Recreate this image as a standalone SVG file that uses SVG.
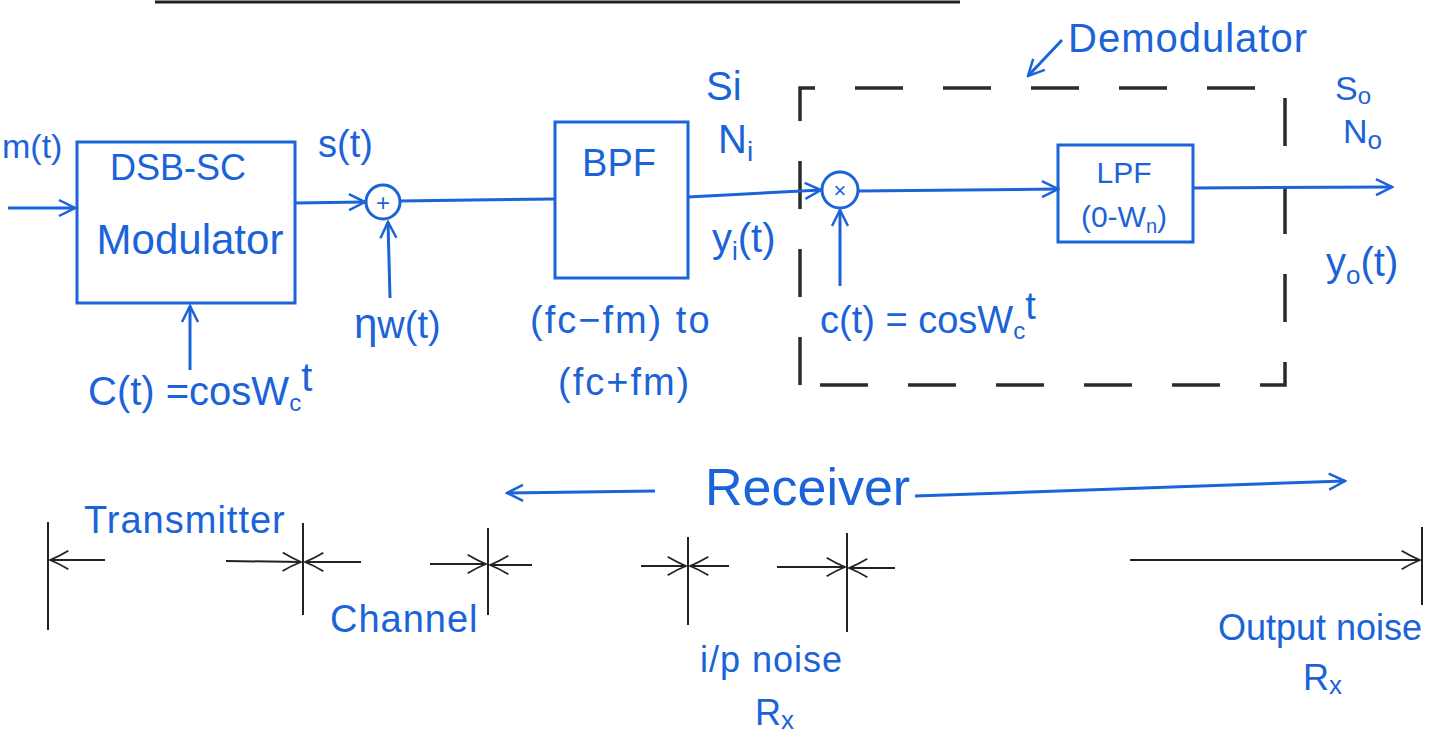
<svg xmlns="http://www.w3.org/2000/svg" width="1448" height="737" viewBox="0 0 1448 737">
<defs>
<marker id="ah" viewBox="0 0 20 20" refX="18" refY="10" markerWidth="20" markerHeight="20" markerUnits="userSpaceOnUse" orient="auto">
<path d="M2,2 L18,10 L2,18" fill="none" stroke="#1b63d8" stroke-width="2.5"/>
</marker>
<marker id="ahk" viewBox="0 0 24 24" refX="22" refY="12" markerWidth="22" markerHeight="22" markerUnits="userSpaceOnUse" orient="auto">
<path d="M2,2 Q12,8 22,12 Q12,16 2,22" fill="none" stroke="#222" stroke-width="2"/>
</marker>
<style>
.b{stroke:#1b63d8;stroke-width:3;fill:none}
.k{stroke:#222;stroke-width:2;fill:none}
.d{stroke:#2a2a2a;stroke-width:3.5;fill:none;stroke-dasharray:48 40}
.t{font-family:"Liberation Sans",Arial,sans-serif;fill:#1b63d8}
</style>
</defs>
<rect width="1448" height="737" fill="#fff"/>
<line x1="155" y1="2" x2="960" y2="2" stroke="#222" stroke-width="3"/>

<g id="modulator">
<rect x="77" y="142" width="218" height="161" class="b"/>
<text class="t" x="178" y="180" font-size="36" text-anchor="middle">DSB-SC</text>
<text class="t" x="190" y="254" font-size="42" text-anchor="middle">Modulator</text>
</g>
<g id="adder">
<circle cx="383" cy="202" r="17" class="b"/>
<text class="t" x="383" y="211" font-size="24" text-anchor="middle">+</text>
</g>
<g id="bpf">
<rect x="555" y="122" width="133" height="156" class="b"/>
<text class="t" x="619" y="176" font-size="38" text-anchor="middle">BPF</text>
</g>
<g id="multiplier">
<circle cx="840" cy="190" r="18" class="b"/>
<text class="t" x="840" y="198" font-size="22" text-anchor="middle">×</text>
</g>
<g id="lpf">
<rect x="1058" y="145" width="135" height="97" class="b"/>
<text class="t" x="1124" y="183" font-size="30" text-anchor="middle">LPF</text>
<text class="t" x="1124" y="227" font-size="30" text-anchor="middle">(0-W<tspan font-size="20" dy="6">n</tspan><tspan dy="-6">)</tspan></text>
</g>
<g id="demodulator">
<path d="M800,385 L800,88 L1285,88 L1285,385 Z" class="d"/>
<text class="t" x="1068" y="52" font-size="40" letter-spacing="1">Demodulator</text>
<line x1="1062" y1="40" x2="1028" y2="76" class="b" marker-end="url(#ah)"/>
</g>

<g id="connectors">
<line x1="8" y1="208" x2="75" y2="208" class="b" marker-end="url(#ah)"/>
<line x1="295" y1="203" x2="365" y2="202" class="b" marker-end="url(#ah)"/>
<line x1="390" y1="298" x2="388" y2="222" class="b" marker-end="url(#ah)"/>
<line x1="400" y1="201" x2="555" y2="199" class="b"/>
<line x1="190" y1="370" x2="190" y2="306" class="b" marker-end="url(#ah)"/>
<line x1="688" y1="197" x2="821" y2="190" class="b" marker-end="url(#ah)"/>
<line x1="840" y1="286" x2="840" y2="210" class="b" marker-end="url(#ah)"/>
<line x1="858" y1="191" x2="1058" y2="189" class="b" marker-end="url(#ah)"/>
<line x1="1193" y1="188" x2="1392" y2="187" class="b" marker-end="url(#ah)"/>
</g>

<g id="labels">
<text class="t" x="2" y="158" font-size="34">m(t)</text>
<text class="t" x="318" y="157" font-size="38">s(t)</text>
<text class="t" x="354" y="338" font-size="42">η<tspan font-size="38">w(t)</tspan></text>
<text class="t" x="88" y="405" font-size="40">C(t) =cosW<tspan font-size="24" dy="6">c</tspan><tspan dy="-20">t</tspan></text>
<text class="t" x="530" y="333" font-size="38" letter-spacing="2">(fc−fm) to</text>
<text class="t" x="558" y="395" font-size="38" letter-spacing="2">(fc+fm)</text>
<text class="t" x="706" y="100" font-size="40">Si</text>
<text class="t" x="718" y="153" font-size="40">N<tspan font-size="28" dy="8">i</tspan></text>
<text class="t" x="712" y="252" font-size="40">y<tspan font-size="26" dy="8">i</tspan><tspan dy="-8">(t)</tspan></text>
<text class="t" x="820" y="333" font-size="38">c(t) = cosW<tspan font-size="24" dy="6">c</tspan><tspan dy="-20">t</tspan></text>
<text class="t" x="1335" y="100" font-size="34">S<tspan font-size="24" dy="4">o</tspan></text>
<text class="t" x="1343" y="143" font-size="34">N<tspan font-size="26" dy="6">o</tspan></text>
<text class="t" x="1326" y="276" font-size="40">y<tspan font-size="26" dy="8">o</tspan><tspan dy="-8">(t)</tspan></text>
</g>

<g id="sections">
<text class="t" x="705" y="505" font-size="52">Receiver</text>
<line x1="655" y1="491" x2="507" y2="493" class="b" marker-end="url(#ah)"/>
<line x1="915" y1="496" x2="1345" y2="481" class="b" marker-end="url(#ah)"/>
<text class="t" x="84" y="533" font-size="38" letter-spacing="1">Transmitter</text>
<text class="t" x="330" y="632" font-size="38" letter-spacing="1">Channel</text>
<text class="t" x="700" y="672" font-size="36" letter-spacing="1">i/p noise</text>
<text class="t" x="755" y="725" font-size="36">R<tspan font-size="26" dy="4">x</tspan></text>
<text class="t" x="1218" y="640" font-size="36">Output noise</text>
<text class="t" x="1303" y="690" font-size="36">R<tspan font-size="26" dy="4">x</tspan></text>

<line x1="48" y1="522" x2="48" y2="630" class="k"/>
<line x1="105" y1="560" x2="50" y2="560" class="k" marker-end="url(#ahk)"/>
<line x1="303" y1="523" x2="303" y2="615" class="k"/>
<line x1="226" y1="561" x2="301" y2="562" class="k" marker-end="url(#ahk)"/>
<line x1="361" y1="562" x2="305" y2="562" class="k" marker-end="url(#ahk)"/>
<line x1="488" y1="528" x2="488" y2="615" class="k"/>
<line x1="430" y1="564" x2="486" y2="564" class="k" marker-end="url(#ahk)"/>
<line x1="532" y1="565" x2="490" y2="565" class="k" marker-end="url(#ahk)"/>
<line x1="688" y1="537" x2="688" y2="625" class="k"/>
<line x1="641" y1="566" x2="686" y2="566" class="k" marker-end="url(#ahk)"/>
<line x1="729" y1="566" x2="690" y2="566" class="k" marker-end="url(#ahk)"/>
<line x1="847" y1="533" x2="847" y2="632" class="k"/>
<line x1="777" y1="567" x2="845" y2="567" class="k" marker-end="url(#ahk)"/>
<line x1="895" y1="568" x2="849" y2="568" class="k" marker-end="url(#ahk)"/>
<line x1="1422" y1="527" x2="1422" y2="605" class="k"/>
<line x1="1130" y1="560" x2="1420" y2="560" class="k" marker-end="url(#ahk)"/>
</g>
</svg>
